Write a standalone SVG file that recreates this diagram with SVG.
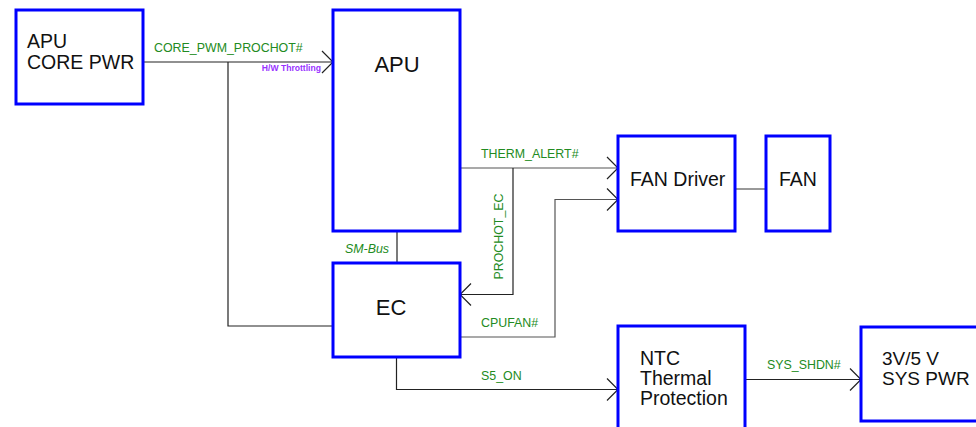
<svg xmlns="http://www.w3.org/2000/svg" width="976" height="427" viewBox="0 0 976 427">
<defs>
<marker id="arr" markerUnits="userSpaceOnUse" markerWidth="14" markerHeight="26" refX="11" refY="12" orient="auto" viewBox="-1 -1 14 26">
<path d="M0,1 L11,12 L0,23" fill="none" stroke="#222" stroke-width="1.2"/>
</marker>
<style>
.box{fill:#fff;stroke:#0000ff;stroke-width:3}
.t{font-family:"Liberation Sans",Arial,sans-serif;fill:#111;font-size:19.5px}
.big{font-size:22px}
.lbl{font-family:"Liberation Sans",Arial,sans-serif;fill:#228B22;font-size:12.4px}
.ln{fill:none;stroke:#222;stroke-width:1.2}
.gl{fill:none;stroke:#555;stroke-width:1.2}
</style>
</defs>
<rect width="976" height="427" fill="#fff"/>
<g id="connectors">
<path class="ln" d="M143,62 H333" marker-end="url(#arr)"/>
<path class="ln" d="M228,62 V326 H333"/>
<path class="ln" d="M397,231 V263"/>
<path class="gl" d="M460,168 H618" marker-end="url(#arr)"/>
<path class="ln" d="M513,168 V294.5 H460" marker-end="url(#arr)"/>
<path class="gl" d="M460,337 H555 V199.5 H618" marker-end="url(#arr)"/>
<path class="ln" d="M396.5,357 V389.5 H618" marker-end="url(#arr)"/>
<path class="gl" d="M735,189 H766"/>
<path class="ln" d="M745,379.5 H861" marker-end="url(#arr)"/>
<text class="lbl" x="154" y="52">CORE_PWM_PROCHOT#</text>
<text x="321" y="71" text-anchor="end" font-family="Liberation Sans,Arial,sans-serif" font-weight="bold" font-size="8.6" fill="#9933ff">H/W Throttling</text>
<text class="lbl" x="345" y="253" font-style="italic">SM-Bus</text>
<text class="lbl" x="481" y="158">THERM_ALERT#</text>
<text class="lbl" transform="translate(503,236.5) rotate(-90)" text-anchor="middle">PROCHOT_EC</text>
<text class="lbl" x="481" y="327">CPUFAN#</text>
<text class="lbl" x="481" y="380">S5_ON</text>
<text class="lbl" x="767" y="369">SYS_SHDN#</text>
</g>
<g id="apu-core-pwr">
<rect class="box" x="16" y="10" width="127" height="94"/>
<text class="t" x="27" y="48">APU</text>
<text class="t" x="27" y="69">CORE PWR</text>
</g>
<g id="apu">
<rect class="box" x="333" y="10" width="127" height="221"/>
<text class="t big" x="397" y="72" text-anchor="middle">APU</text>
</g>
<g id="ec">
<rect class="box" x="333" y="263" width="127" height="94"/>
<text class="t big" x="391" y="315" text-anchor="middle">EC</text>
</g>
<g id="fan-driver">
<rect class="box" x="618" y="136" width="117" height="95"/>
<text class="t" x="630" y="186">FAN Driver</text>
</g>
<g id="fan">
<rect class="box" x="766" y="136" width="64" height="95"/>
<text class="t" x="798" y="186" text-anchor="middle">FAN</text>
</g>
<g id="ntc">
<rect class="box" x="618" y="326" width="127" height="115"/>
<text class="t" x="640" y="364.5">NTC</text>
<text class="t" x="640" y="385">Thermal</text>
<text class="t" x="640" y="405">Protection</text>
</g>
<g id="sys-pwr">
<rect class="box" x="861" y="327" width="140" height="94"/>
<text class="t" x="882" y="364.5" style="font-size:19px">3V/5 V</text>
<text class="t" x="882" y="385" style="font-size:19px">SYS PWR</text>
</g>
</svg>
